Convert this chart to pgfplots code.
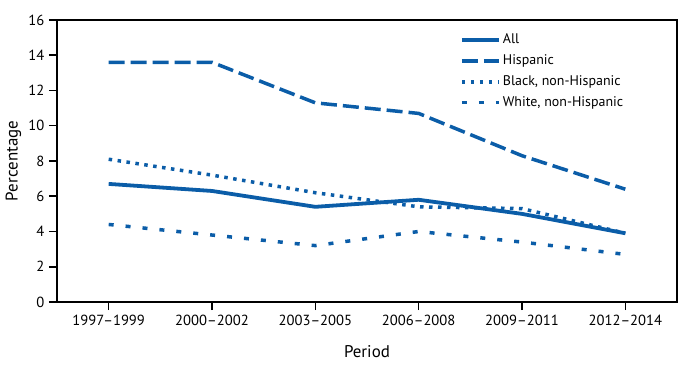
\documentclass[border=0pt]{standalone}
\usepackage{fontspec}
\setmainfont{PT Sans}
\usepackage{pgfplots}
\pgfplotsset{compat=1.18}
\definecolor{cblue}{HTML}{0B5DA8}
\begin{document}
\fontsize{13.5}{16}\selectfont
\begin{tikzpicture}
\begin{axis}[
  scale only axis, width=620bp, height=282bp,
  xmin=-0.5, xmax=5.5, ymin=0, ymax=16,
  xtick={0,1,2,3,4,5},
  xticklabels={1997--1999,2000--2002,2003--2005,2006--2008,2009--2011,2012--2014},
  ytick={0,2,...,16},
  tick align=outside, tick pos=left,
  major tick length=8bp,
  axis line style={line width=1.6bp},
  every tick/.style={black, line width=1.5bp},
  xlabel={Period}, ylabel={Percentage},
  label style={font=\fontsize{17}{20}\selectfont},
  xlabel style={yshift=-11bp},
  ylabel style={yshift=-2bp},
  /pgf/number format/assume math mode=true,
  ticklabel style={font=\fontsize{14.7}{17}\selectfont},
  legend style={draw=none, fill=none, at={(0.645,0.965)}, anchor=north west,
    font=\fontsize{14}{16}\selectfont, row sep=5bp},
  legend cell align=left,
  legend image code/.code={\draw[#1] (0bp,0bp) -- (37bp,0bp);},
  clip=false,
]
\addplot[cblue, line width=3.8bp] coordinates {(0,6.7)(1,6.3)(2,5.4)(3,5.8)(4,5.0)(5,3.9)};
\addlegendentry{All}
\addplot[cblue, line width=3.5bp, dash pattern=on 16bp off 6bp] coordinates {(0,13.6)(1,13.6)(2,11.3)(3,10.7)(4,8.3)(5,6.4)};
\addlegendentry{Hispanic}
\addplot[cblue, line width=3.5bp, dash pattern=on 3.5bp off 5.5bp] coordinates {(0,8.1)(1,7.2)(2,6.2)(3,5.4)(4,5.3)(5,3.9)};
\addlegendentry{Black, non-Hispanic}
\addplot[cblue, line width=3.5bp, dash pattern=on 5bp off 12bp] coordinates {(0,4.4)(1,3.8)(2,3.2)(3,4.0)(4,3.4)(5,2.7)};
\addlegendentry{White, non-Hispanic}
\coordinate (sw) at (rel axis cs:0,0);
\coordinate (ne) at (rel axis cs:1,1);
\end{axis}
\path (sw) ++(-57bp,-63bp) (ne) ++(9bp,20bp);
\end{tikzpicture}
\end{document}
